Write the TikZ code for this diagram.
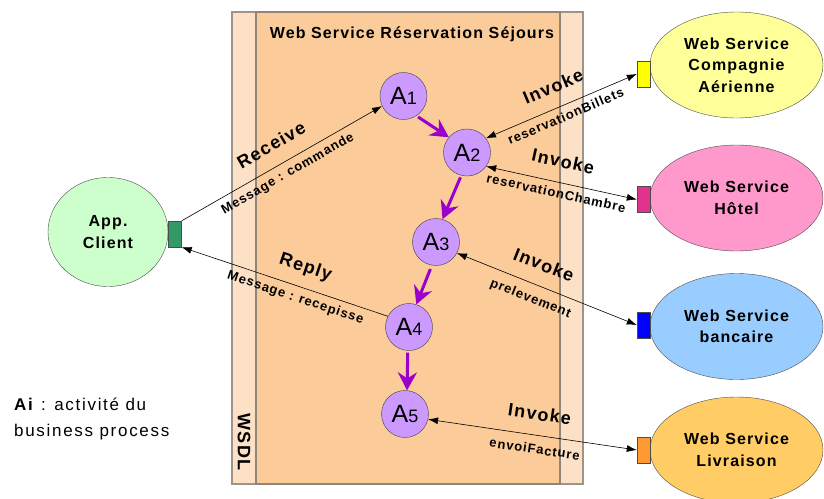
\documentclass[tikz,border=0pt]{standalone}
\usepackage{fontspec}
\setmainfont{Liberation Sans}
\newfontfamily\wsfont{Liberation Sans}[LetterSpace=7]
\newfontfamily\legfont{Liberation Sans}[LetterSpace=10]
\usetikzlibrary{shapes.geometric,arrows.meta}
\definecolor{wsdlclair}{HTML}{FDE1C6}
\definecolor{wsdlfonce}{HTML}{FCCB9A}
\definecolor{bord}{HTML}{A09488}
\definecolor{activite}{HTML}{CC99FF}
\definecolor{flux}{HTML}{9900CC}
\definecolor{clientfond}{HTML}{CCFFCC}
\definecolor{clientport}{HTML}{339966}
\definecolor{ciefond}{HTML}{FFFF99}
\definecolor{cieport}{HTML}{FFFF00}
\definecolor{hotelfond}{HTML}{FF99CC}
\definecolor{hotelport}{HTML}{E0338F}
\definecolor{banquefond}{HTML}{99CCFF}
\definecolor{banqueport}{HTML}{0000FF}
\definecolor{livrfond}{HTML}{FFCC66}
\definecolor{livrport}{HTML}{FF9933}
\newcommand{\actnum}[1]{A{\fontsize{18}{18}\selectfont #1}}
\begin{document}
\begin{tikzpicture}[x=1pt,y=-1pt]
    \tikzset{act/.style={circle,draw=black!75,fill=activite,minimum size=47pt,inner sep=0pt,font=\fontsize{25}{25}\selectfont},
             svc/.style={ellipse,draw=black!70,minimum width=173pt,minimum height=106pt,inner sep=0pt,align=center,font=\wsfont\bfseries\fontsize{16}{21.5}\selectfont},
             port/.style={rectangle,draw=black!70,minimum width=13pt,minimum height=26pt,inner sep=0pt},
             flow/.style={line width=3pt,flux,-{Stealth[length=18pt,width=19pt,inset=6pt]}},
             msg/.style={line width=0.6pt,>={Latex[length=10pt,width=7pt]}},
             verb/.style={above,sloped,inner sep=0pt,outer sep=15pt,text depth=0pt,font=\wsfont\bfseries\fontsize{18}{18}\selectfont},
             oper/.style={below,sloped,inner sep=0pt,outer sep=6pt,text height=9.5pt,font=\wsfont\bfseries\fontsize{13}{13}\selectfont}};
    \useasboundingbox (0,0) rectangle (824,498);
    % process WSDL
    \draw[line width=1.5pt,bord,fill=wsdlclair] (232,12) rectangle (583,484);
    \draw[line width=1.5pt,bord!90!black,fill=wsdlfonce] (256,12) rectangle (560,484);
    \node[font=\wsfont\bfseries\fontsize{16}{16}\selectfont] (titre) at (412,34) {Web Service Réservation Séjours};
    \node[rotate=-90,font=\wsfont\bfseries\fontsize{18}{18}\selectfont] (wsdl) at (244,442) {WSDL};
    % activites
    \node[act] (a1) at (403.5,96) {\actnum{1}};
    \node[act] (a2) at (467,152.5) {\actnum{2}};
    \node[act] (a3) at (436,242) {\actnum{3}};
    \node[act] (a4) at (409,327) {\actnum{4}};
    \node[act] (a5) at (405,414) {\actnum{5}};
    \draw[flow,shorten <=2pt] (a1.-57) -- (a2.140);
    \draw[flow,shorten <=2pt] (a2.-104) -- (a3.74);
    \draw[flow,shorten <=4pt] (a3.-100) -- (a4.72);
    \draw[flow,shorten <=2pt] (a4.-93) -- (a5.85);
    % partenaires
    \node[svc,fill=clientfond,minimum width=120pt,minimum height=109pt] (client) at (108,232) {App.\\Client};
    \node[svc,fill=ciefond] (cie) at (736.5,65) {Web Service\\Compagnie\\Aérienne};
    \node[svc,fill=hotelfond] (hotel) at (736.5,198) {Web Service\\Hôtel};
    \node[svc,fill=banquefond] (banque) at (736.5,326.5) {Web Service\\bancaire};
    \node[svc,fill=livrfond] (livr) at (736.5,450) {Web Service\\Livraison};
    \node[port,fill=clientport] (pc) at (175,234) {};
    \node[port,fill=cieport] (pa) at (643.5,74) {};
    \node[port,fill=hotelport] (ph) at (643.5,199.5) {};
    \node[port,fill=banqueport] (pb) at (643.5,325) {};
    \node[port,fill=livrport] (pl) at (643.5,450) {};
    % messages
    \draw[msg,->] (pc.north east) -- node[verb] {Receive} node[oper] {Message : commande} (a1.205);
    \draw[msg,<-] (pc.south east) -- node[pos=0.57,verb] {Reply} node[pos=0.57,oper] {Message : recepisse} (a4.153);
    \draw[msg,<->] (a2.37) -- node[verb] {Invoke} node[oper] {reservationBillets} (pa.west);
    \draw[msg,<->] (a2.-36) -- node[pos=0.48,verb] {Invoke} node[pos=0.48,oper] {reservationChambre} (ph.west);
    \draw[msg,<->] (a3.-28) -- node[pos=0.44,verb] {Invoke} node[pos=0.44,oper,outer sep=9pt] {prelevement} (pb.west);
    \draw[msg,<->] (a5.-13) -- node[pos=0.52,verb] {Invoke} node[pos=0.52,oper,outer sep=9pt] {envoiFacture} (pl.west);
    % legende
    \node[anchor=north west,align=left,inner sep=0pt,font=\legfont\fontsize{17}{26}\selectfont] (legende) at (14,398) {\textbf{Ai} : activité du\\business process};
\end{tikzpicture}
\end{document}
